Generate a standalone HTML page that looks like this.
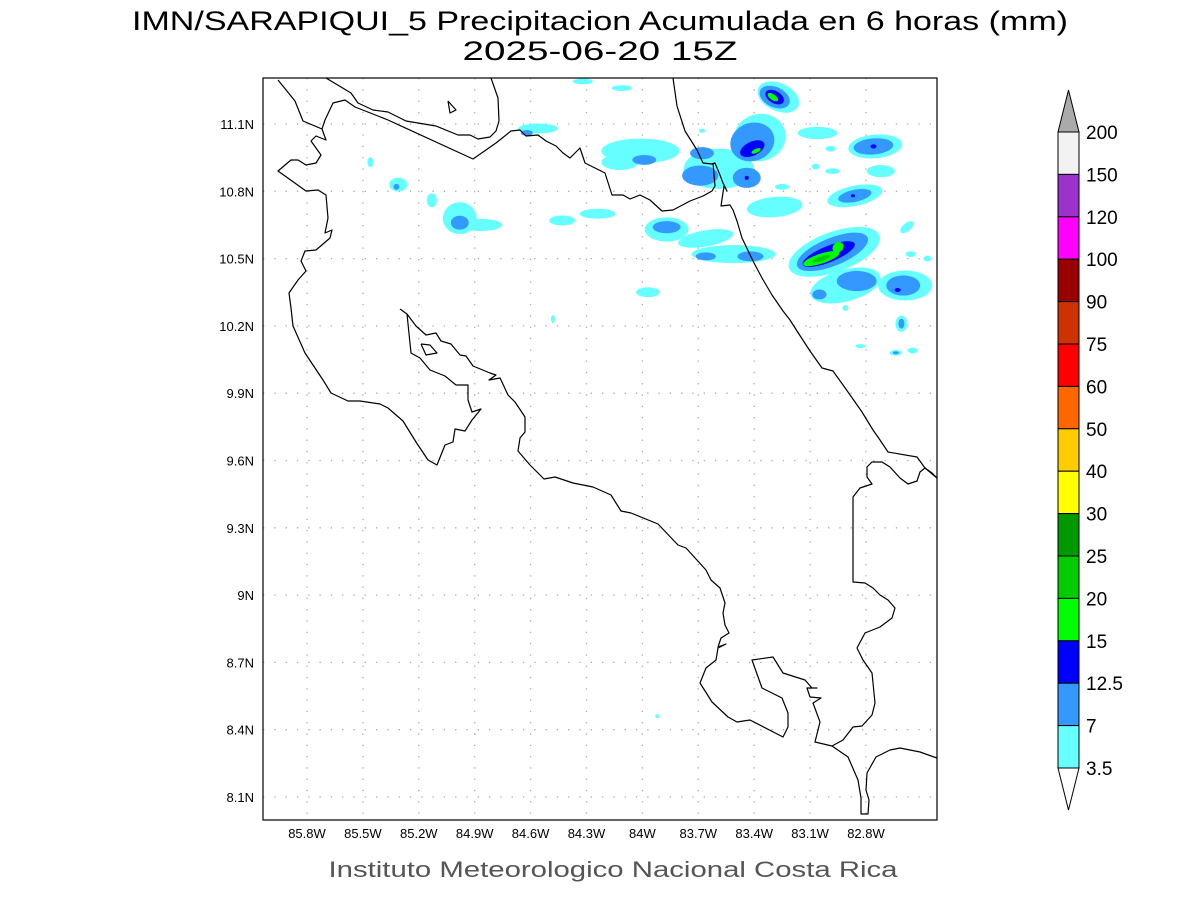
<!DOCTYPE html>
<html><head><meta charset="utf-8"><style>
html,body{margin:0;padding:0;background:#fff;}
svg{display:block;font-family:"Liberation Sans",sans-serif;}
</style></head><body>
<svg id="chart" width="1200" height="900" viewBox="0 0 1200 900" xmlns="http://www.w3.org/2000/svg">
<defs><clipPath id="plotclip"><rect x="263" y="78" width="674" height="742"/></clipPath></defs>
<rect width="1200" height="900" fill="#fff"/>
<text x="600" y="30" text-anchor="middle" font-size="27" textLength="936" lengthAdjust="spacingAndGlyphs" fill="#000">IMN/SARAPIQUI_5 Precipitacion Acumulada en 6 horas (mm)</text>
<text x="600" y="60" text-anchor="middle" font-size="27" textLength="275" lengthAdjust="spacingAndGlyphs" fill="#000">2025-06-20 15Z</text>
<g id="grid"></g>
<g id="blobs" clip-path="url(#plotclip)"></g>
<g id="coast" clip-path="url(#plotclip)" fill="none" stroke="#000" stroke-width="1.2" stroke-linejoin="round"></g>
<rect x="263" y="78" width="674" height="742" fill="none" stroke="#000" stroke-width="1.2"/>
<g id="xlabels"></g>
<g id="ylabels"></g>
<g id="cbar"></g>
<text x="613" y="877" text-anchor="middle" font-size="22" textLength="569" lengthAdjust="spacingAndGlyphs" fill="#555">Instituto Meteorologico Nacional Costa Rica</text>
</svg>
<script>
// ---- data ----
const lonTicks = [85.8, 85.5, 85.2, 84.9, 84.6, 84.3, 84.0, 83.7, 83.4, 83.1, 82.8];
const lonTickLabels = ["85.8W","85.5W","85.2W","84.9W","84.6W","84.3W","84W","83.7W","83.4W","83.1W","82.8W"];
const latTicks = [11.1, 10.8, 10.5, 10.2, 9.9, 9.6, 9.3, 9.0, 8.7, 8.4, 8.1];
const latTickLabels = ["11.1N","10.8N","10.5N","10.2N","9.9N","9.6N","9.3N","9N","8.7N","8.4N","8.1N"];
const legendLevels = ["200","150","120","100","90","75","60","50","40","30","25","20","15","12.5","7","3.5"];
const legendColors = ["#f2f2f2","#9933cc","#ff00ff","#990000","#cc3300","#ff0000","#ff6600","#ffcc00","#ffff00","#009900","#00cc00","#00ff00","#0000ff","#3399ff","#66ffff"];
const levelColors = ["#66ffff","#3399ff","#0000ff","#00ff00","#00cc00"];
// precipitation cells: center lon (W), lat (N), radius lon/lat (deg), rotation, level index
const blobLon = [84.32,84.11,83.27,83.37,84.01,83.59,83.06,82.75,82.99,83.07,82.98,82.72,83.25,82.86,83.29,84.43,84.24,83.87,83.66,83.51,82.97,82.91,82.59,82.58,82.56,82.47,82.91,83.97,82.61,82.83,82.64,82.55,84.56,85.46,85.31,85.13,84.98,84.87,84.48,83.92,83.68,84.12,
 83.29,83.41,83.99,83.69,83.68,83.44,82.76,82.86,83.87,83.66,83.42,82.98,82.85,83.05,82.60,82.61,82.64,84.62,85.32,84.98,
 83.29,83.41,83.44,82.76,82.87,83.00,82.63,
 83.30,83.39,83.04,82.95,83.04];
const blobLat = [11.29,11.26,11.22,11.04,10.98,10.90,11.06,11.00,10.99,10.91,10.89,10.89,10.82,10.78,10.73,10.67,10.70,10.63,10.59,10.52,10.53,10.38,10.38,10.64,10.52,10.50,10.28,10.35,10.21,10.11,10.08,10.09,11.08,10.93,10.83,10.76,10.68,10.65,10.23,8.46,11.07,10.93,
 11.22,11.02,10.94,10.87,10.97,10.86,11.00,10.78,10.64,10.51,10.51,10.53,10.40,10.34,10.38,10.21,10.08,11.06,10.82,10.66,
 11.22,10.99,10.86,11.00,10.78,10.52,10.36,
 11.22,10.98,10.50,10.55,10.50];
const blobRLon = [.054,.054,.118,.14,.21,.188,.107,.145,.027,.021,.038,.075,.038,.150,.150,.070,.097,.118,.150,.225,.258,.193,.145,.043,.027,.021,.016,.064,.032,.027,.032,.027,.107,.016,.048,.027,.091,.118,.011,.011,.016,.10,
 .086,.12,.064,.097,.064,.075,.107,.091,.075,.054,.070,.204,.107,.038,.091,.016,.016,.032,.016,.048,
 .054,.070,.011,.016,.011,.150,.016,
 .032,.027,.102,.032,.05];
const blobRLat = [.013,.013,.062,.105,.055,.09,.027,.053,.013,.013,.013,.027,.013,.045,.045,.022,.022,.054,.036,.040,.089,.071,.067,.018,.013,.013,.013,.022,.036,.009,.013,.013,.022,.022,.031,.031,.071,.027,.018,.009,.009,.035,
 .045,.085,.022,.045,.027,.045,.036,.027,.027,.018,.022,.062,.045,.022,.045,.022,.007,.013,.013,.031,
 .027,.031,.009,.009,.007,.036,.009,
 .013,.009,.022,.022,.011];
const blobRot = [0,0,25,-15,0,0,0,-5,0,0,0,0,0,-12,-5,0,0,0,-10,0,-20,-15,0,-40,0,0,0,0,0,0,0,0,0,0,0,0,0,0,0,0,0,0,
 25,-20,0,0,0,0,-5,-12,0,0,0,-22,0,0,0,0,0,0,0,0,
 30,-25,0,0,0,-22,0,
 35,-25,-18,-40,-18];
const blobLevel = [0,0,0,0,0,0,0,0,0,0,0,0,0,0,0,0,0,0,0,0,0,0,0,0,0,0,0,0,0,0,0,0,0,0,0,0,0,0,0,0,0,0,
 1,1,1,1,1,1,1,1,1,1,1,1,1,1,1,1,1,1,1,1,
 2,2,2,2,2,2,2,
 3,3,3,3,4];

// basemap outlines (map grid, image units)
const coastLines = [
 [[278,80],[295,101],[303,121],[322,129],[326,140],[316,136],[311,141],[321,155],[316,163],[306,165],[298,160],[291,160],[278,171],[306,191],[318,190],[326,195],[328,218],[325,233],[332,230],[330,238],[316,250],[305,251],[301,261],[306,271],[298,280],[289,293],[291,308],[293,326],[305,353],[323,380],[331,393],[348,401],[360,401],[380,404],[388,408],[403,421],[416,442],[428,460],[437,465],[445,445],[453,442],[455,429],[465,431],[472,420],[481,409],[472,412],[468,400],[468,385],[456,385],[445,376],[430,370],[420,358],[411,353],[407,314],[400,309]],
 [[407,314],[416,326],[426,335],[436,333],[441,341],[451,344],[460,355],[466,356],[473,366],[490,373],[496,375],[489,380],[500,378],[501,380],[508,395],[515,402],[525,417],[525,432],[520,438],[518,451],[530,465],[544,479],[555,477],[573,483],[593,487],[611,495],[621,511],[631,513],[658,524],[678,545],[686,548],[706,570],[711,580],[720,588],[725,603],[723,613],[725,625],[729,633],[721,638],[718,647],[726,644],[718,648],[716,660],[706,668],[700,683],[712,702],[728,717],[737,722],[750,720],[783,737],[788,727],[788,713],[782,698],[762,688],[752,660],[773,657],[783,673],[805,680],[812,688],[817,688],[807,688],[810,697],[821,698],[813,703],[820,722],[815,742],[832,746],[848,757],[858,780],[861,798],[861,814],[868,814],[869,800],[866,790],[867,773],[876,757],[890,750],[900,748],[920,752],[937,758]],
 [[832,746],[843,740],[853,727],[862,726],[872,715],[875,703],[872,673],[863,660],[857,648],[865,633],[880,627],[892,618],[895,608],[888,600],[880,595],[873,588],[865,583],[853,582],[853,497],[860,488],[872,484],[867,477],[867,467],[872,462],[882,462],[890,467],[900,478],[908,484],[917,481],[920,472],[925,468],[932,473],[937,478]],
 [[673,78],[677,106],[685,131],[697,150],[703,163],[712,164],[715,163],[720,175],[723,183],[727,191],[724,186],[721,206],[730,205],[733,210],[737,221],[742,238],[753,261],[762,278],[772,295],[783,311],[790,320],[797,331],[810,351],[822,368],[833,371],[848,392],[862,412],[873,430],[880,440],[888,452],[917,457],[925,468],[937,478]],
 [[322,129],[325,120],[333,103],[345,100],[355,107],[378,116],[388,120],[473,159],[496,143],[511,131],[520,130],[526,136],[538,135],[546,141],[556,146],[563,153],[570,158],[580,148],[585,163],[605,173],[612,195],[623,195],[630,199],[640,195],[650,200],[662,211],[673,210],[690,201],[703,196],[712,191],[715,186],[713,163]],
 [[326,78],[351,93],[358,103],[373,110],[388,112],[406,121],[436,126],[458,135],[470,135],[478,139],[490,137],[496,131],[499,121],[498,98],[491,78]],
 [[448,101],[450,113],[456,110],[448,101]],
 [[421,344],[430,345],[437,353],[426,355],[421,344]]
];

// ---- axis functions ----
const X0 = 307, PXLON = 186.33, LON0 = 85.8;
const Y0 = 124, PXLAT = 224.33, LAT0 = 11.1;
const xOf = lon => X0 + (LON0 - lon) * PXLON;
const yOf = lat => Y0 + (LAT0 - lat) * PXLAT;
const NS = "http://www.w3.org/2000/svg";
function mk(tag, attrs, parent){ const e=document.createElementNS(NS,tag); for(const k in attrs) e.setAttribute(k,attrs[k]); parent.appendChild(e); return e; }

// grid
const grid = document.getElementById('grid');
lonTicks.forEach(lon => {
  const l = mk('line',{x1:xOf(lon),x2:xOf(lon),y1:78,y2:820,stroke:'#aaa','stroke-width':1.3,'stroke-dasharray':'1.3 10'},grid);
  
  
});
latTicks.forEach(lat => {
  const l = mk('line',{x1:263,x2:937,y1:yOf(lat),y2:yOf(lat),stroke:'#aaa','stroke-width':1.3,'stroke-dasharray':'1.3 10'},grid);
  
  
});

// blobs
const bg = document.getElementById('blobs');
blobLon.forEach((lon,i) => {
  const cx = xOf(lon), cy = yOf(blobLat[i]);
  const e = mk('ellipse',{cx:cx,cy:cy,rx:blobRLon[i]*PXLON,ry:blobRLat[i]*PXLAT,fill:levelColors[blobLevel[i]],transform:'rotate('+blobRot[i]+' '+cx+' '+cy+')'},bg);
  
  
});

// coast
const cg = document.getElementById('coast');
coastLines.forEach(pts => {
  const p = mk('polyline',{points:pts.map(q=>q.join(',')).join(' ')},cg);
  
  
});

// labels
const xl = document.getElementById('xlabels');
lonTicks.forEach((lon,i) => {
  const t = mk('text',{x:xOf(lon),y:838,'text-anchor':'middle','font-size':13,fill:'#000'},xl);
  t.textContent = lonTickLabels[i];
  
  
});
const yl = document.getElementById('ylabels');
latTicks.forEach((lat,i) => {
  const t = mk('text',{x:254,y:yOf(lat)+5,'text-anchor':'end','font-size':13,fill:'#000'},yl);
  t.textContent = latTickLabels[i];
  
  
});

// colorbar
const cb = document.getElementById('cbar');
const CB_X = 1058, CB_W = 21, CB_TOP = 132, CB_H = 42.4;
const tri = mk('polygon',{points:`${CB_X},${CB_TOP} ${CB_X+CB_W},${CB_TOP} ${CB_X+CB_W/2},${CB_TOP-42}`,fill:'#aaa',stroke:'#000','stroke-width':1},cb);


legendColors.forEach((c,i) => {
  const r = mk('rect',{x:CB_X,y:CB_TOP+i*CB_H,width:CB_W,height:CB_H,fill:c,stroke:'#000','stroke-width':1},cb);
  
  
});
const bot = CB_TOP + legendColors.length*CB_H;
const tri2 = mk('polygon',{points:`${CB_X},${bot} ${CB_X+CB_W},${bot} ${CB_X+CB_W/2},${bot+42}`,fill:'#fff',stroke:'#000','stroke-width':1},cb);


legendLevels.forEach((lab,i) => {
  const t = mk('text',{x:1086,y:CB_TOP+i*CB_H+7,'font-size':19,fill:'#000'},cb);
  t.textContent = lab;
  
  
});
</script>
</body></html>
